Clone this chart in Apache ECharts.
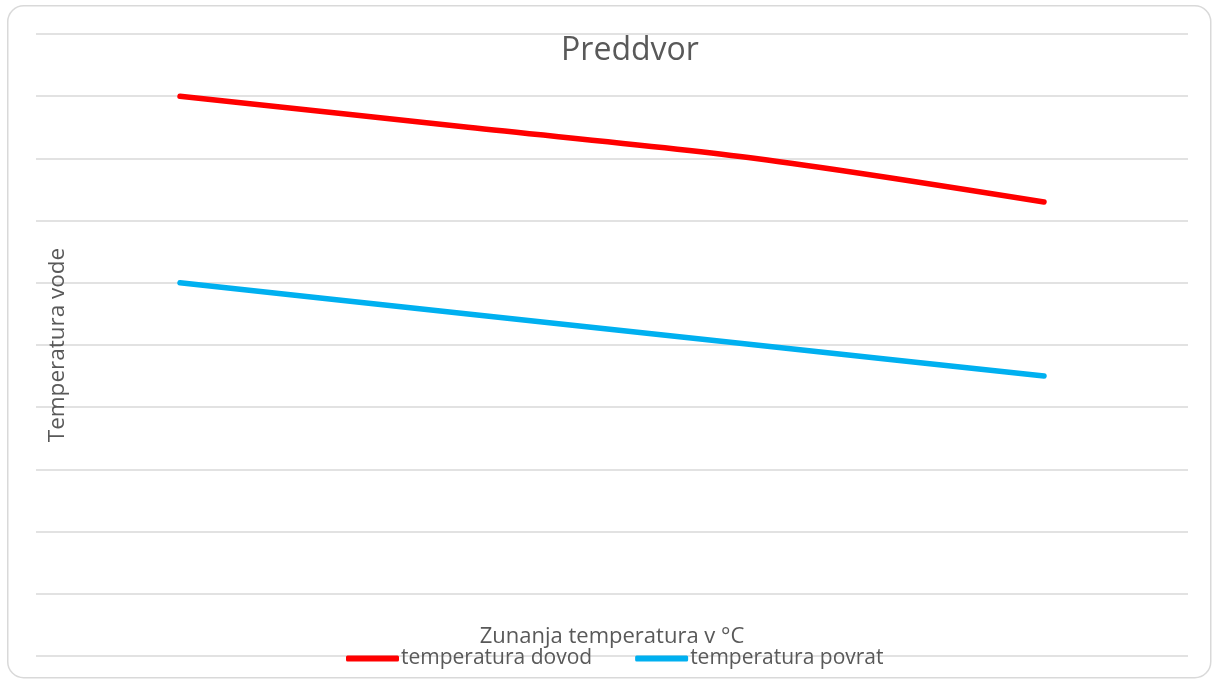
<!DOCTYPE html>
<html>
<head>
<meta charset="utf-8">
<script src="https://cdn.jsdelivr.net/npm/echarts@6/dist/echarts.min.js"></script>
<style>html,body{margin:0;padding:0;background:#fff;}#c{width:1215px;height:681px;}</style>
</head>
<body>
<div id="c"></div>
<script>
const categories = ['-20', '-10', '0', '10'];
const dovod = [90, 85, 80, 73];
const povrat = [60, 55, 50, 45];
const seriesNames = ['temperatura dovod', 'temperatura povrat'];

const FONT = '"Open Sans", "Noto Sans", sans-serif';
const chart = echarts.init(document.getElementById('c'));
chart.setOption({
  backgroundColor: '#ffffff',
  animation: false,
  graphic: [{
    type: 'rect', left: 7, top: 5, z: -10,
    shape: { width: 1203, height: 672, r: 16 },
    style: { fill: '#ffffff', stroke: '#d9d9d9', lineWidth: 1.5 }
  }],
  title: {
    text: 'Preddvor', left: 630, textAlign: 'center', top: 35, padding: 0,
    textStyle: { fontFamily: FONT, fontSize: 32, fontWeight: 'normal', color: '#595959' }
  },
  legend: {
    left: 341, top: 643, itemWidth: 53, itemHeight: 6, itemGap: 43,
    icon: 'roundRect',
    textStyle: { fontFamily: FONT, fontSize: 21, color: '#595959', padding: [0, 0, 0, -3] },
    data: seriesNames
  },
  grid: { left: 36, right: 27, top: 34, bottom: 25, containLabel: false },
  xAxis: {
    type: 'category', data: categories, boundaryGap: true,
    name: 'Zunanja temperatura v °C', nameLocation: 'middle', nameGap: -30,
    nameTextStyle: { fontFamily: FONT, fontSize: 22, color: '#595959' },
    axisLine: { show: false }, axisTick: { show: false }, axisLabel: { show: false }
  },
  yAxis: {
    type: 'value', min: 0, max: 100, interval: 10,
    name: 'Temperatura vode', nameLocation: 'middle', nameGap: -33,
    nameTextStyle: { fontFamily: FONT, fontSize: 22.5, color: '#595959' },
    axisLine: { show: false }, axisTick: { show: false }, axisLabel: { show: false },
    splitLine: { lineStyle: { color: '#d9d9d9', width: 1.5 } }
  },
  series: [
    { name: seriesNames[0], type: 'line', data: dovod, symbol: 'none', smooth: 0.3,
      itemStyle: { color: '#ff0000' },
      lineStyle: { color: '#ff0000', width: 5.5, cap: 'round', join: 'round' } },
    { name: seriesNames[1], type: 'line', data: povrat, symbol: 'none', smooth: 0.3,
      itemStyle: { color: '#00b0f0' },
      lineStyle: { color: '#00b0f0', width: 5.5, cap: 'round', join: 'round' } }
  ]
});
</script>
</body>
</html>
